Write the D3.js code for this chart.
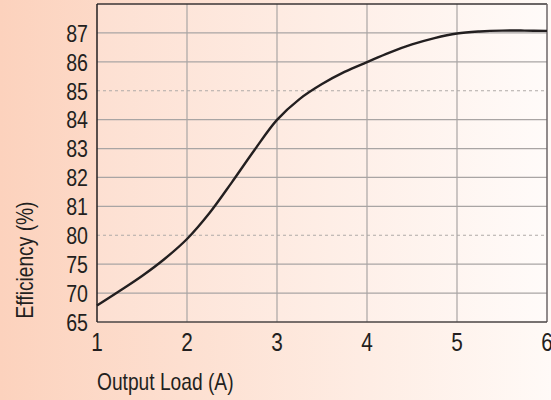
<!DOCTYPE html>
<html>
<head>
<meta charset="utf-8">
<script src="https://cdn.jsdelivr.net/npm/d3@7"></script>
<style>
body { margin: 0; }
svg text { font-family: "Liberation Sans", Arial, sans-serif; fill: #231f20; }
</style>
</head>
<body>
<div class="container"></div>
<script>
const WIDTH = 551;
const HEIGHT = 400;
const M = {top: 4, right: 4, bottom: 78, left: 97};
const INNER_WIDTH = WIDTH - M.left - M.right;
const INNER_HEIGHT = HEIGHT - M.top - M.bottom;
const NARROW = 0.8; // squeeze text to look like a condensed face

// data
var loadA = [1, 1.25, 1.5, 1.75, 2, 2.25, 2.5, 2.75, 3, 3.25, 3.5, 3.75, 4, 4.25, 4.5, 4.75, 5, 5.25, 5.5, 5.75, 6];
var efficiency = [67.85, 70.36, 72.96, 75.9, 79.36, 80.77, 81.84, 82.95, 83.99, 84.71, 85.23, 85.65, 85.99, 86.32, 86.6, 86.82, 86.98, 87.05, 87.08, 87.08, 87.07];
var xTicks = [1, 2, 3, 4, 5, 6];
var yTicks = [65, 70, 75, 80, 81, 82, 83, 84, 85, 86, 87];
var dashedTicks = [80, 85];
var yTop = 88;

var svg = d3.select('.container').append('svg')
	.attr('width', WIDTH)
	.attr('height', HEIGHT);

var defs = svg.append('defs');
var bgGrad = defs.append('linearGradient').attr('id', 'bg');
bgGrad.append('stop').attr('offset', '0%').attr('stop-color', '#fcd2bd');
bgGrad.append('stop').attr('offset', '100%').attr('stop-color', '#fffaf7');
var plotGrad = defs.append('linearGradient').attr('id', 'plotbg');
plotGrad.append('stop').attr('offset', '0%').attr('stop-color', '#fde0d2');
plotGrad.append('stop').attr('offset', '100%').attr('stop-color', '#fffbf9');

svg.append('rect').attr('width', WIDTH).attr('height', HEIGHT).attr('fill', 'url(#bg)');

var xScale = d3.scaleLinear().domain([1, 6]).range([0, INNER_WIDTH]);
// uneven axis: every tick gets the same step
var yDomain = yTicks.concat([yTop]);
var step = INNER_HEIGHT / (yDomain.length - 1);
var yScale = d3.scaleLinear()
	.domain(yDomain)
	.range(yDomain.map(function(d, i) { return INNER_HEIGHT - i * step; }));

var g = svg.append('g').attr('transform', 'translate(' + M.left + ',' + M.top + ')');

g.append('rect').attr('width', INNER_WIDTH).attr('height', INNER_HEIGHT).attr('fill', 'url(#plotbg)');

// grid
g.selectAll('.hgrid').data(yTicks.slice(1)).enter().append('line')
	.attr('x1', 0).attr('x2', INNER_WIDTH)
	.attr('y1', function(d) { return yScale(d); })
	.attr('y2', function(d) { return yScale(d); })
	.attr('stroke', function(d) { return dashedTicks.indexOf(d) >= 0 ? '#b0aaa8' : '#a9a5a4'; })
	.attr('stroke-width', 1.2)
	.attr('stroke-dasharray', function(d) { return dashedTicks.indexOf(d) >= 0 ? '3,3' : null; });

g.selectAll('.vgrid').data(xTicks.slice(1, -1)).enter().append('line')
	.attr('y1', 0).attr('y2', INNER_HEIGHT)
	.attr('x1', function(d) { return xScale(d); })
	.attr('x2', function(d) { return xScale(d); })
	.attr('stroke', '#a9a5a4')
	.attr('stroke-width', 1.2);

// frame
g.append('line').attr('x1', 0).attr('x2', INNER_WIDTH).attr('y1', 0).attr('y2', 0).attr('stroke', '#3a3536').attr('stroke-width', 1.5);
g.append('line').attr('x1', INNER_WIDTH).attr('x2', INNER_WIDTH).attr('y1', 0).attr('y2', INNER_HEIGHT).attr('stroke', '#6d6667').attr('stroke-width', 1.5);
g.append('line').attr('x1', 0).attr('x2', INNER_WIDTH).attr('y1', INNER_HEIGHT).attr('y2', INNER_HEIGHT).attr('stroke', '#4a4445').attr('stroke-width', 1.5);
g.append('line').attr('x1', 0).attr('x2', 0).attr('y1', 0).attr('y2', INNER_HEIGHT).attr('stroke', '#231f20').attr('stroke-width', 1.5);

// curve
var line = d3.line()
	.x(function(d, i) { return xScale(loadA[i]); })
	.y(function(d) { return yScale(d); })
	.curve(d3.curveCatmullRom.alpha(0.5));

g.append('path')
	.attr('d', line(efficiency))
	.attr('fill', 'none')
	.attr('stroke', '#231f20')
	.attr('stroke-width', 2.4);

// tick labels
g.selectAll('.ylab').data(yTicks).enter().append('text')
	.attr('transform', function(d) { return 'translate(-9,' + yScale(d) + ') scale(' + NARROW + ',1)'; })
	.attr('dy', '0.36em')
	.attr('text-anchor', 'end')
	.style('font-size', '24.5px')
	.text(function(d) { return d; });

g.selectAll('.xlab').data(xTicks).enter().append('text')
	.attr('transform', function(d) { return 'translate(' + xScale(d) + ',' + (INNER_HEIGHT + 29) + ') scale(' + NARROW + ',1)'; })
	.attr('text-anchor', 'middle')
	.style('font-size', '26px')
	.text(function(d) { return d; });

// titles
svg.append('text')
	.attr('transform', 'translate(33,260) rotate(-90) scale(' + NARROW + ',1)')
	.attr('text-anchor', 'middle')
	.style('font-size', '24px')
	.text('Efficiency (%)');

svg.append('text')
	.attr('transform', 'translate(' + M.left + ',390) scale(' + NARROW + ',1)')
	.style('font-size', '24px')
	.text('Output Load (A)');
</script>
</body>
</html>
